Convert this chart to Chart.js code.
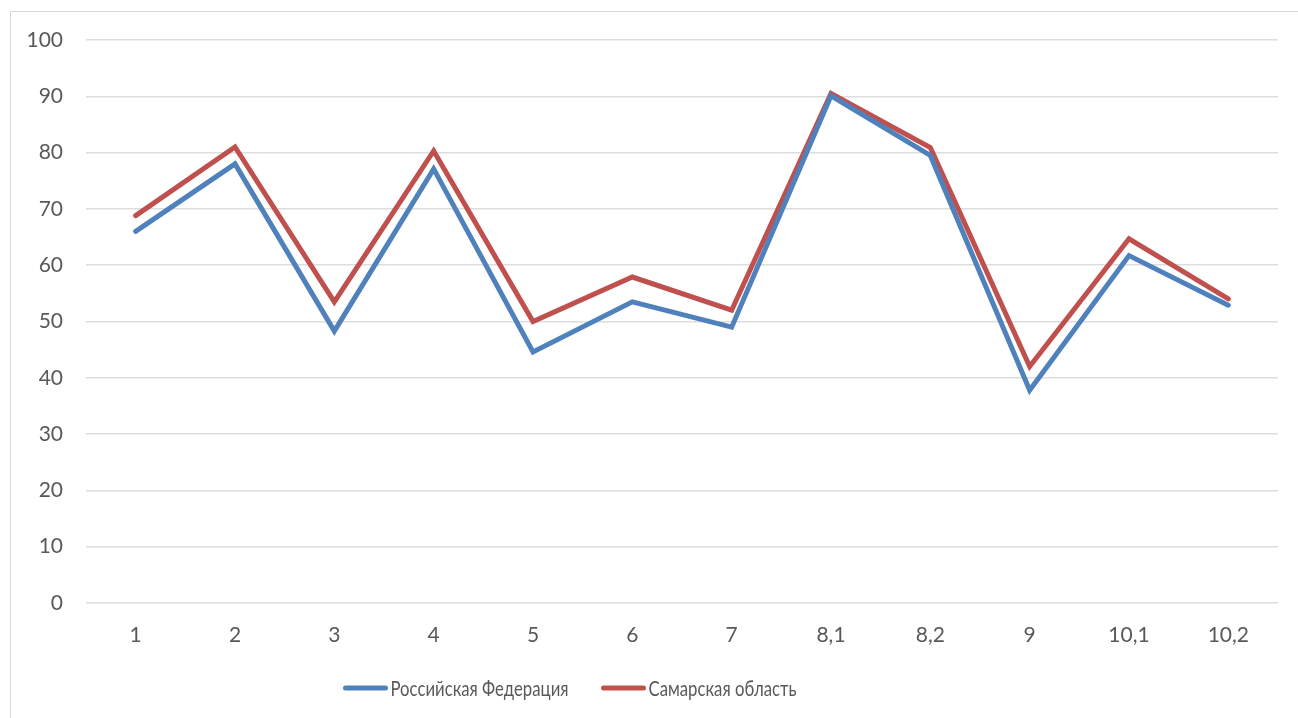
<!DOCTYPE html>
<html lang="ru">
<head>
<meta charset="utf-8">
<title>Российская Федерация и Самарская область</title>
<script src="https://cdn.jsdelivr.net/npm/chart.js@4.4.1/dist/chart.umd.min.js"></script>
<style>
    html, body { margin: 0; padding: 0; background: #fff; overflow: hidden; }
    #wrap { position: relative; width: 1298px; height: 718px; }
    #frame {
        position: absolute; left: 10px; top: 11px;
        width: 1300px; height: 720px;
        border: 1px solid #d9d9d9; box-sizing: border-box;
    }
    #chart { position: absolute; left: 0; top: 0; }
</style>
</head>
<body>
<div id="wrap">
    <div id="frame"></div>
    <canvas id="chart" width="1298" height="718"></canvas>
</div>
<script>
// categories along the x axis
const labels = ["1", "2", "3", "4", "5", "6", "7", "8,1", "8,2", "9", "10,1", "10,2"];

// values per series
const russia = [66.0, 78.0, 48.3, 77.1, 44.6, 53.5, 49.0, 90.1, 79.5, 37.8, 61.7, 52.9];
const samara = [68.8, 81.0, 53.5, 80.3, 50.0, 57.9, 52.0, 90.5, 80.9, 42.0, 64.7, 54.0];

const seriesNames = ["Российская Федерация", "Самарская область"];

const textColor = "#595959";
const fontFamily = "Lato, 'Open Sans', sans-serif";

function makeSeries(name, values, color) {
    return {
        label: name,
        data: values,
        borderColor: color,
        backgroundColor: color,
        borderWidth: 5,
        borderCapStyle: "round",
        borderJoinStyle: "miter",
        pointRadius: 0,
        pointHoverRadius: 0,
        fill: false,
        tension: 0
    };
}

// legend under the axis: short line sample, then the series name
// (names are squeezed a bit horizontally to get a narrow look)
const lineLegend = {
    id: "lineLegend",
    afterDraw(chart, args, opts) {
        const c = chart.ctx;
        const sets = chart.data.datasets;
        c.save();
        c.font = opts.font;
        const widths = sets.map(ds => c.measureText(ds.label).width * opts.squeeze);
        let total = 0;
        widths.forEach((w, i) => {
            total += opts.sample + opts.gap + w;
            if (i < widths.length - 1) total += opts.spacing;
        });
        let x = opts.centerX - total / 2;
        const y = opts.y;
        sets.forEach((ds, i) => {
            c.strokeStyle = ds.borderColor;
            c.lineWidth = ds.borderWidth;
            c.lineCap = "round";
            c.beginPath();
            c.moveTo(x + 2, y);
            c.lineTo(x + opts.sample - 2, y);
            c.stroke();
            c.fillStyle = textColor;
            c.textBaseline = "middle";
            c.textAlign = "left";
            c.fillText(ds.label, x + opts.sample + opts.gap, y + 1, widths[i]);
            x += opts.sample + opts.gap + widths[i] + opts.spacing;
        });
        c.restore();
    }
};

const ctx = document.getElementById("chart").getContext("2d");

new Chart(ctx, {
    type: "line",
    data: {
        labels: labels,
        datasets: [
            makeSeries(seriesNames[0], russia, "#4f81bd"),
            makeSeries(seriesNames[1], samara, "#c0504d")
        ]
    },
    options: {
        responsive: false,
        animation: false,
        layout: {
            padding: { left: 10, right: 20, top: 40, bottom: 63 }
        },
        scales: {
            x: {
                offset: true,
                grid: { display: false, drawTicks: false },
                border: { display: false },
                ticks: {
                    color: textColor,
                    font: { family: fontFamily, size: 21 },
                    padding: 20,
                    maxRotation: 0
                },
                afterFit(scale) { scale.height = 52; }
            },
            y: {
                min: 0,
                max: 100,
                grid: { color: "#dddddd", lineWidth: 1.5, drawTicks: false },
                border: { display: false },
                ticks: {
                    stepSize: 10,
                    color: textColor,
                    font: { family: fontFamily, size: 21 },
                    padding: 23
                },
                afterFit(scale) { scale.width = 76; }
            }
        },
        plugins: {
            tooltip: { enabled: false },
            legend: { display: false },
            lineLegend: {
                font: "22px " + fontFamily,
                squeeze: 0.76,
                centerX: 570,
                y: 688,
                sample: 44,
                gap: 3,
                spacing: 33
            }
        }
    },
    plugins: [lineLegend]
});
</script>
</body>
</html>
